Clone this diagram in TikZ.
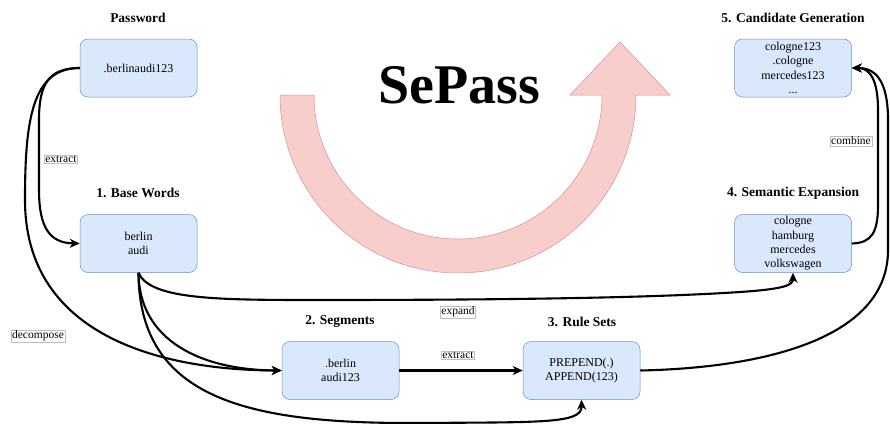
\documentclass[tikz,border=0pt]{standalone}
\usepackage{fontspec}
\setmainfont{Liberation Serif}
\usetikzlibrary{arrows.meta}
\definecolor{boxfill}{HTML}{DAE8FC}
\definecolor{boxdraw}{HTML}{6C8EBF}
\definecolor{arrfill}{HTML}{F8CECC}
\definecolor{arrdraw}{HTML}{D9908C}
\begin{document}
\begin{tikzpicture}[x=1pt,y=-1pt,
 box/.style={draw=boxdraw, fill=boxfill, rounded corners=8pt, minimum width=117pt, minimum height=58pt, inner sep=2pt, align=center, font=\fontsize{12}{14.3}\selectfont, line width=0.5pt},
 ttl/.style={font=\fontsize{13.5}{16}\selectfont\bfseries},
 lbl/.style={draw=black!25, fill=white, inner sep=1pt, font=\fontsize{11.5}{13}\selectfont, line width=0.4pt},
 conn/.style={line width=2.1pt, -{Stealth[length=10pt,width=9pt,inset=3pt]}},
 ]
\useasboundingbox (0,0) rectangle (890,423);
% big U-turn arrow
\fill[arrfill, draw=arrdraw, line width=0.5pt]
  (280,95) arc[start angle=180, end angle=360, radius=178pt]
  -- (670,95) -- (620,42) -- (570,95) -- (602,95)
  arc[start angle=360, end angle=180, radius=144pt] -- cycle;
\node[font=\fontsize{56}{60}\selectfont\bfseries] (title) at (459,85) {SePass};
% boxes
\node[box] (pw) at (138.5,68) {.berlinaudi123};
\node[box] (bw) at (138.5,243.5) {berlin\\audi};
\node[box] (sg) at (340.5,370.5) {.berlin\\audi123};
\node[box] (rs) at (581.5,370.5) {PREPEND(.)\\APPEND(123)};
\node[box] (se) at (793,243.5) {cologne\\hamburg\\mercedes\\volkswagen};
\node[box] (cg) at (793,68) {cologne123\\.cologne\\mercedes123\\...};
% titles
\node[ttl] (tpw) at (138,18) {Password};
\node[ttl] (tbw) at (138,193) {1. Base Words};
\node[ttl] (tsg) at (340,322) {2. Segments};
\node[ttl] (trs) at (582,322) {3. Rule Sets};
\node[ttl] (tse) at (793,193) {4. Semantic Expansion};
\node[ttl] (tcg) at (793,18) {5. Candidate Generation};
% connectors
\draw[conn] (pw.west) .. controls (48,68) and (39,85) .. (39,120) -- (39,190) .. controls (39,228) and (50,243) .. (bw.west);
\draw[conn] (pw.west) .. controls (32,68) and (25,120) .. (25,200) .. controls (25,330) and (150,370) .. (sg.west);
\draw[conn] (bw.south) .. controls (139,340) and (200,370) .. (sg.west);
\draw[conn] (bw.south) .. controls (139,400) and (250,424) .. (420,423) .. controls (540,422) and (582,424) .. (rs.south);
\draw[conn] (bw.south) .. controls (150,300) and (220,300) .. (320,300) .. controls (500,300) and (650,298) .. (740,292) .. controls (785,289) and (793,285) .. (se.south);
\draw[conn] (sg.east) -- (rs.west);
\draw[conn] (rs.east) .. controls (760,368) and (888,340) .. (888,250) -- (888,120) .. controls (888,80) and (875,68) .. (cg.east);
\draw[conn] (se.east) .. controls (872,243) and (878,232) .. (878,205) -- (878,110) .. controls (878,80) and (870,68) .. (cg.east);
% labels
\node[lbl] (l1) at (61,159) {extract};
\node[lbl] (l2) at (38,336) {decompose};
\node[lbl] (l3) at (458,312) {expand};
\node[lbl] (l4) at (458,355) {extract};
\node[lbl] (l5) at (851,141) {combine};
\end{tikzpicture}
\end{document}
